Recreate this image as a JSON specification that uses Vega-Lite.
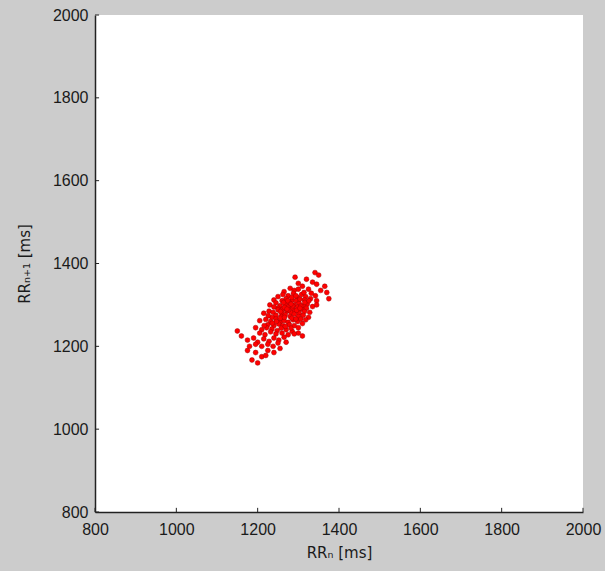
{
  "$schema": "https://vega.github.io/schema/vega-lite/v6.json",
  "width": 488,
  "height": 497,
  "autosize": "none",
  "padding": {"left": 95, "top": 15, "right": 22, "bottom": 59},
  "background": "#cccccc",
  "config": {
    "view": {"fill": "white", "stroke": null},
    "font": "Liberation Sans",
    "axis": {
      "grid": false,
      "domainColor": "#222222",
      "domainWidth": 1.5,
      "ticks": false,
      "labelFont": "Liberation Sans",
      "labelFontSize": 16,
      "labelColor": "#1a1a1a",
      "labelFlush": false,
      "labelOverlap": false,
      "format": "d",
      "titleFont": "DejaVu Sans",
      "titleFontSize": 15,
      "titleFontWeight": "normal",
      "titleColor": "#1a1a1a"
    }
  },
  "datasets": {
    "points": [
      {"rr_n": 1341, "rr_n1": 1378}, {"rr_n": 1350, "rr_n1": 1372}, {"rr_n": 1292, "rr_n1": 1367},
      {"rr_n": 1320, "rr_n1": 1362}, {"rr_n": 1335, "rr_n1": 1355}, {"rr_n": 1365, "rr_n1": 1345}, {"rr_n": 1300, "rr_n1": 1352}, {"rr_n": 1345, "rr_n1": 1350},
      {"rr_n": 1280, "rr_n1": 1340}, {"rr_n": 1310, "rr_n1": 1345}, {"rr_n": 1325, "rr_n1": 1338}, {"rr_n": 1355, "rr_n1": 1335}, {"rr_n": 1370, "rr_n1": 1330}, {"rr_n": 1290, "rr_n1": 1335}, {"rr_n": 1265, "rr_n1": 1332}, {"rr_n": 1300, "rr_n1": 1338},
      {"rr_n": 1250, "rr_n1": 1320}, {"rr_n": 1262, "rr_n1": 1325}, {"rr_n": 1275, "rr_n1": 1322}, {"rr_n": 1288, "rr_n1": 1328}, {"rr_n": 1298, "rr_n1": 1318}, {"rr_n": 1308, "rr_n1": 1325}, {"rr_n": 1318, "rr_n1": 1320}, {"rr_n": 1330, "rr_n1": 1315}, {"rr_n": 1342, "rr_n1": 1322}, {"rr_n": 1375, "rr_n1": 1315}, {"rr_n": 1240, "rr_n1": 1312}, {"rr_n": 1270, "rr_n1": 1315}, {"rr_n": 1285, "rr_n1": 1312}, {"rr_n": 1260, "rr_n1": 1310}, {"rr_n": 1295, "rr_n1": 1310}, {"rr_n": 1315, "rr_n1": 1312}, {"rr_n": 1345, "rr_n1": 1310},
      {"rr_n": 1230, "rr_n1": 1300}, {"rr_n": 1245, "rr_n1": 1305}, {"rr_n": 1255, "rr_n1": 1298}, {"rr_n": 1268, "rr_n1": 1302}, {"rr_n": 1278, "rr_n1": 1305}, {"rr_n": 1290, "rr_n1": 1300}, {"rr_n": 1302, "rr_n1": 1304}, {"rr_n": 1312, "rr_n1": 1298}, {"rr_n": 1322, "rr_n1": 1302}, {"rr_n": 1335, "rr_n1": 1296}, {"rr_n": 1250, "rr_n1": 1292}, {"rr_n": 1262, "rr_n1": 1290}, {"rr_n": 1275, "rr_n1": 1295}, {"rr_n": 1285, "rr_n1": 1292}, {"rr_n": 1298, "rr_n1": 1295}, {"rr_n": 1308, "rr_n1": 1290}, {"rr_n": 1320, "rr_n1": 1292}, {"rr_n": 1240, "rr_n1": 1295}, {"rr_n": 1345, "rr_n1": 1300},
      {"rr_n": 1215, "rr_n1": 1280}, {"rr_n": 1228, "rr_n1": 1285}, {"rr_n": 1238, "rr_n1": 1282}, {"rr_n": 1250, "rr_n1": 1288}, {"rr_n": 1260, "rr_n1": 1280}, {"rr_n": 1272, "rr_n1": 1285}, {"rr_n": 1282, "rr_n1": 1282}, {"rr_n": 1292, "rr_n1": 1286}, {"rr_n": 1302, "rr_n1": 1280}, {"rr_n": 1315, "rr_n1": 1284}, {"rr_n": 1328, "rr_n1": 1282}, {"rr_n": 1245, "rr_n1": 1275}, {"rr_n": 1258, "rr_n1": 1272}, {"rr_n": 1268, "rr_n1": 1276}, {"rr_n": 1280, "rr_n1": 1272}, {"rr_n": 1290, "rr_n1": 1278}, {"rr_n": 1300, "rr_n1": 1272}, {"rr_n": 1312, "rr_n1": 1275}, {"rr_n": 1325, "rr_n1": 1270}, {"rr_n": 1235, "rr_n1": 1270},
      {"rr_n": 1205, "rr_n1": 1262}, {"rr_n": 1220, "rr_n1": 1265}, {"rr_n": 1232, "rr_n1": 1260}, {"rr_n": 1245, "rr_n1": 1266}, {"rr_n": 1255, "rr_n1": 1258}, {"rr_n": 1265, "rr_n1": 1262}, {"rr_n": 1275, "rr_n1": 1258}, {"rr_n": 1287, "rr_n1": 1264}, {"rr_n": 1298, "rr_n1": 1260}, {"rr_n": 1310, "rr_n1": 1255}, {"rr_n": 1225, "rr_n1": 1252}, {"rr_n": 1240, "rr_n1": 1250}, {"rr_n": 1252, "rr_n1": 1254}, {"rr_n": 1262, "rr_n1": 1250}, {"rr_n": 1278, "rr_n1": 1252}, {"rr_n": 1290, "rr_n1": 1250}, {"rr_n": 1300, "rr_n1": 1245},
      {"rr_n": 1150, "rr_n1": 1237}, {"rr_n": 1195, "rr_n1": 1245}, {"rr_n": 1210, "rr_n1": 1240}, {"rr_n": 1222, "rr_n1": 1245}, {"rr_n": 1235, "rr_n1": 1242}, {"rr_n": 1248, "rr_n1": 1238}, {"rr_n": 1258, "rr_n1": 1244}, {"rr_n": 1270, "rr_n1": 1240}, {"rr_n": 1285, "rr_n1": 1236}, {"rr_n": 1300, "rr_n1": 1232}, {"rr_n": 1310, "rr_n1": 1225}, {"rr_n": 1205, "rr_n1": 1232}, {"rr_n": 1218, "rr_n1": 1228}, {"rr_n": 1232, "rr_n1": 1235}, {"rr_n": 1245, "rr_n1": 1230}, {"rr_n": 1260, "rr_n1": 1232}, {"rr_n": 1275, "rr_n1": 1228}, {"rr_n": 1290, "rr_n1": 1230},
      {"rr_n": 1160, "rr_n1": 1225}, {"rr_n": 1175, "rr_n1": 1215}, {"rr_n": 1190, "rr_n1": 1220}, {"rr_n": 1200, "rr_n1": 1210}, {"rr_n": 1215, "rr_n1": 1218}, {"rr_n": 1228, "rr_n1": 1212}, {"rr_n": 1240, "rr_n1": 1220}, {"rr_n": 1252, "rr_n1": 1215}, {"rr_n": 1265, "rr_n1": 1222}, {"rr_n": 1180, "rr_n1": 1200}, {"rr_n": 1195, "rr_n1": 1205}, {"rr_n": 1210, "rr_n1": 1200}, {"rr_n": 1225, "rr_n1": 1205}, {"rr_n": 1238, "rr_n1": 1200}, {"rr_n": 1250, "rr_n1": 1208}, {"rr_n": 1270, "rr_n1": 1210},
      {"rr_n": 1195, "rr_n1": 1185}, {"rr_n": 1210, "rr_n1": 1175}, {"rr_n": 1225, "rr_n1": 1190}, {"rr_n": 1240, "rr_n1": 1185}, {"rr_n": 1186, "rr_n1": 1167}, {"rr_n": 1200, "rr_n1": 1160}, {"rr_n": 1220, "rr_n1": 1178}, {"rr_n": 1255, "rr_n1": 1195}, {"rr_n": 1175, "rr_n1": 1190},
      {"rr_n": 1256, "rr_n1": 1284}, {"rr_n": 1266, "rr_n1": 1294}, {"rr_n": 1276, "rr_n1": 1288}, {"rr_n": 1286, "rr_n1": 1298}, {"rr_n": 1296, "rr_n1": 1287}, {"rr_n": 1306, "rr_n1": 1297}, {"rr_n": 1316, "rr_n1": 1306}, {"rr_n": 1326, "rr_n1": 1310}, {"rr_n": 1246, "rr_n1": 1260}, {"rr_n": 1256, "rr_n1": 1268}, {"rr_n": 1266, "rr_n1": 1270}, {"rr_n": 1284, "rr_n1": 1268}, {"rr_n": 1294, "rr_n1": 1266}, {"rr_n": 1306, "rr_n1": 1266}, {"rr_n": 1318, "rr_n1": 1264}, {"rr_n": 1236, "rr_n1": 1256}, {"rr_n": 1264, "rr_n1": 1306}, {"rr_n": 1274, "rr_n1": 1310}, {"rr_n": 1284, "rr_n1": 1318}, {"rr_n": 1294, "rr_n1": 1322}, {"rr_n": 1304, "rr_n1": 1314}, {"rr_n": 1314, "rr_n1": 1330}, {"rr_n": 1282, "rr_n1": 1302}, {"rr_n": 1272, "rr_n1": 1290}, {"rr_n": 1226, "rr_n1": 1274}, {"rr_n": 1216, "rr_n1": 1250}, {"rr_n": 1282, "rr_n1": 1244}, {"rr_n": 1268, "rr_n1": 1248}, {"rr_n": 1304, "rr_n1": 1292}, {"rr_n": 1332, "rr_n1": 1328}
    ],
    "xticks": [{"v": 800}, {"v": 1000}, {"v": 1200}, {"v": 1400}, {"v": 1600}, {"v": 1800}, {"v": 2000}],
    "yticks": [{"v": 800}, {"v": 1000}, {"v": 1200}, {"v": 1400}, {"v": 1600}, {"v": 1800}, {"v": 2000}]
  },
  "layer": [
    {
      "data": {"name": "points"},
      "mark": {"type": "point", "shape": "circle", "filled": true, "size": 24, "fill": "#ff0000", "stroke": "#a00000", "strokeWidth": 0.5, "opacity": 1},
      "encoding": {
        "x": {
          "field": "rr_n", "type": "quantitative",
          "scale": {"domain": [800, 2000], "nice": false, "zero": false},
          "axis": {"values": [800, 1000, 1200, 1400, 1600, 1800, 2000], "labelPadding": 9, "title": "RRₙ [ms]", "titlePadding": 8}
        },
        "y": {
          "field": "rr_n1", "type": "quantitative",
          "scale": {"domain": [800, 2000], "nice": false, "zero": false},
          "axis": {"values": [800, 1000, 1200, 1400, 1600, 1800, 2000], "labelPadding": 7, "title": "RRₙ₊₁ [ms]", "titlePadding": 20}
        }
      }
    },
    {
      "data": {"name": "xticks"},
      "mark": {"type": "rule", "color": "#222222", "strokeWidth": 1},
      "encoding": {
        "x": {"field": "v", "type": "quantitative"},
        "y": {"datum": 800},
        "y2": {"datum": 810}
      }
    },
    {
      "data": {"name": "yticks"},
      "mark": {"type": "rule", "color": "#222222", "strokeWidth": 1},
      "encoding": {
        "y": {"field": "v", "type": "quantitative"},
        "x": {"datum": 800},
        "x2": {"datum": 810}
      }
    }
  ]
}
